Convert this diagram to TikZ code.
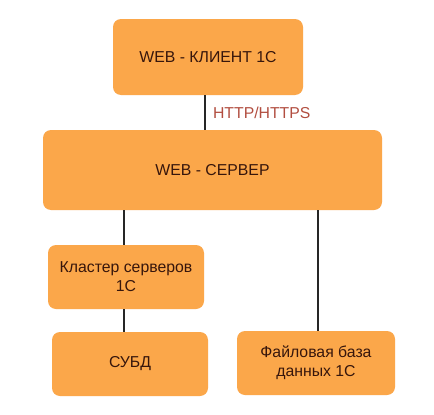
\documentclass[tikz,border=0pt]{standalone}
\usepackage{fontspec}
\setmainfont{Liberation Sans}
\usetikzlibrary{positioning}
\definecolor{boxorange}{RGB}{251,167,74}
\definecolor{boxtext}{RGB}{55,22,12}
\definecolor{protored}{RGB}{178,78,64}
\tikzset{
  every node/.style={font=\fontsize{15.8pt}{19pt}\selectfont},
  box/.style={rectangle, rounded corners=8pt, fill=boxorange, draw=none,
    text=boxtext, align=center, inner sep=2pt},
  link/.style={line width=1.4pt, draw=black!85}
}

\begin{document}
\begin{tikzpicture}[x=1pt,y=-1pt]
  \useasboundingbox[fill=white] (0,0) rectangle (434,415);

  \node[box, minimum width=190pt, minimum height=76pt] (client) at (208,57) {WEB - КЛИЕНТ 1С};
  \node[box, minimum width=339pt, minimum height=80pt] (server) at (212.5,170) {WEB - СЕРВЕР};
  \node[box, minimum width=156pt, minimum height=64pt] (cluster) at (126,277)
    {Кластер серверов\\1С};
  \node[box, minimum width=156pt, minimum height=64pt] (dbms) at (130,364) {СУБД};
  \node[box, minimum width=158pt, minimum height=64pt] (filedb) at (316,363)
    {Файловая база\\данных 1С};

  \coordinate (c1) at (205,0);
  \coordinate (c2) at (124,0);
  \coordinate (c3) at (318,0);

  \draw[link] (c1 |- client.south) -- (c1 |- server.north)
    node[midway, right=4pt, text=protored] (proto) {HTTP/HTTPS};
  \draw[link] (c2 |- server.south) -- (c2 |- cluster.north);
  \draw[link] (c2 |- cluster.south) -- (c2 |- dbms.north);
  \draw[link] (c3 |- server.south) -- (c3 |- filedb.north);
\end{tikzpicture}
\end{document}
